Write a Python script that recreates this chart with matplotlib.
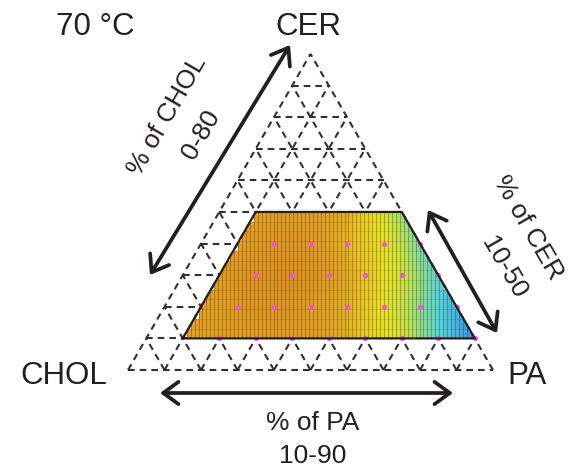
import numpy as np
import matplotlib
matplotlib.use("Agg")
import matplotlib.pyplot as plt
import matplotlib.tri as mtri
from matplotlib.colors import LinearSegmentedColormap
from matplotlib.patches import Polygon
from matplotlib.collections import LineCollection

plt.rcParams["font.family"] = ["Liberation Sans", "DejaVu Sans"]

# ---- data -------------------------------------------------------------
# measured grid: CER level (%) and the PA values (%) sampled at that level
cer_levels = [10, 20, 30, 40, 50]
pa_start = 10
# normalised response at each (CER, PA) point, PA running from 10 upward in steps of 10
z_cer10 = [0.82, 0.84, 0.86, 0.86, 0.82, 0.64, 0.48, 0.27, 0.05]
z_cer20 = [0.84, 0.88, 0.90, 0.87, 0.74, 0.55, 0.36, 0.15]
z_cer30 = [0.86, 0.92, 0.95, 0.87, 0.66, 0.47, 0.27]
z_cer40 = [0.86, 0.90, 0.89, 0.72, 0.55, 0.32]
z_cer50 = [0.84, 0.86, 0.82, 0.62, 0.38]
z_rows = [z_cer10, z_cer20, z_cer30, z_cer40, z_cer50]

# experimental compositions marked on the map
dot_cer = [10] * 8 + [20] * 7 + [30] * 6 + [40] * 5
dot_pa = (list(range(20, 100, 10)) + list(range(20, 90, 10))
          + list(range(20, 80, 10)) + list(range(20, 70, 10)))

temperature = "70 °C"
vertex_labels = ["CHOL", "PA", "CER"]
range_labels = {"CHOL": "0-80", "CER": "10-50", "PA": "10-90"}

# ---- helpers ----------------------------------------------------------
S3 = np.sqrt(3) / 2


def tern(pa, cer):
    """ternary fractions (PA, CER) -> cartesian; CHOL at (0,0), PA at (1,0)."""
    pa = np.asarray(pa, float)
    cer = np.asarray(cer, float)
    return pa + cer / 2, cer * S3


SCALE, X0, Y0 = 365.0, 128.0, 370.0


def P(px, py):
    """figure-pixel position -> axes data position"""
    return (px - X0) / SCALE, (Y0 - py) / SCALE


ink = "#231f20"
grid_c = "#332f2f"

fig = plt.figure(figsize=(5.8, 4.68), dpi=100)
ax = fig.add_axes([0, 0, 1, 1])
ax.set_xlim(-X0 / SCALE, (580 - X0) / SCALE)
ax.set_ylim(-(468 - Y0) / SCALE, Y0 / SCALE)
ax.axis("off")

# ---- dashed ternary grid -----------------------------------------------
segs = []
for k in range(0, 10):
    f = k / 10
    # constant CER
    segs.append([tern(0, f), tern(1 - f, f)])
    # constant PA
    segs.append([tern(f, 0), tern(f, 1 - f)])
    # constant CHOL
    segs.append([tern(1 - f, 0), tern(0, 1 - f)])
segs = [[(float(a[0]), float(a[1])) for a in s] for s in segs]
grid = LineCollection(segs, colors=grid_c, linewidths=1.5,
                      linestyles=[(0, (3.2, 2.4))], zorder=1)
ax.add_collection(grid)

# ---- heat map over the measured region ---------------------------------
pa_pts, cer_pts, z_pts = [], [], []
for cer, row in zip(cer_levels, z_rows):
    for i, z in enumerate(row):
        pa_pts.append((pa_start + 10 * i) / 100)
        cer_pts.append(cer / 100)
        z_pts.append(z)
pa_pts = np.array(pa_pts)
cer_pts = np.array(cer_pts)
xp, yp = tern(pa_pts, cer_pts)
tri = mtri.Triangulation(xp, yp)
interp = mtri.CubicTriInterpolator(tri, np.array(z_pts), kind="geom")

cer_lo, cer_hi = min(cer_levels) / 100, max(cer_levels) / 100
pa_lo = pa_start / 100
x_lo, _ = tern(pa_lo, cer_lo)
x_hi, _ = tern(1 - cer_lo, cer_lo)
nx, ny = 74, 13
xe = np.linspace(float(x_lo), float(x_hi), nx + 1)
ye = np.linspace(cer_lo * S3, cer_hi * S3, ny + 1)
xc = (xe[:-1] + xe[1:]) / 2
yc = (ye[:-1] + ye[1:]) / 2
XC, YC = np.meshgrid(xc, yc)
cer_c = np.clip(YC / S3, cer_lo, cer_hi)
pa_c = np.clip(XC - cer_c / 2, pa_lo, 1 - cer_c)
qx, qy = tern(pa_c, cer_c)
Z = np.clip(interp(qx, qy).filled(np.nan), 0, 1)

cmap = LinearSegmentedColormap.from_list("resp", [
    (0.00, "#2f7fd6"), (0.12, "#3aa8e6"), (0.25, "#4fd4dc"),
    (0.35, "#84dc96"), (0.45, "#c4e048"), (0.55, "#e6e026"),
    (0.65, "#e8c826"), (0.75, "#e4ae24"), (0.86, "#e09e22"),
    (1.00, "#db891e")])

trap = [tern(pa_lo, cer_lo), tern(1 - cer_lo, cer_lo),
        tern(1 - cer_hi, cer_hi), tern(pa_lo, cer_hi)]
trap = [(float(a), float(b)) for a, b in trap]
clip = Polygon(trap, closed=True, transform=ax.transData)

mesh = ax.pcolormesh(xe, ye, Z, cmap=cmap, vmin=0, vmax=1,
                     shading="flat", zorder=2)
mesh.set_clip_path(clip)

vl = LineCollection([[(x, ye[0]), (x, ye[-1])] for x in xe],
                    colors=(0.25, 0.15, 0.05, 0.4), linewidths=0.6, zorder=3)
vl.set_clip_path(clip)
ax.add_collection(vl)
hl = LineCollection([[(xe[0], y), (xe[-1], y)] for y in ye],
                    colors=(0.25, 0.15, 0.05, 0.15), linewidths=0.6, zorder=3)
hl.set_clip_path(clip)
ax.add_collection(hl)

dx, dy = tern(np.array(dot_pa) / 100, np.array(dot_cer) / 100)
ax.plot(dx, dy, ls="none", marker="o", ms=3.8, mfc="#e65ad8", mec="none",
        zorder=4)

ax.add_patch(Polygon(trap, closed=True, fill=False, ec=ink, lw=1.6, zorder=5))

# ---- labels -------------------------------------------------------------
big, small = 22.5, 19
ax.text(*P(95, 35), temperature, fontsize=big, color=ink, ha="center",
        va="baseline")
ax.text(*P(308, 35), vertex_labels[2], fontsize=big, color=ink,
        ha="center", va="baseline")
ax.text(*P(64, 384), vertex_labels[0], fontsize=big, color=ink,
        ha="center", va="baseline")
ax.text(*P(527, 384), vertex_labels[1], fontsize=big, color=ink,
        ha="center", va="baseline")

ax.text(*P(313, 430), "% of PA", fontsize=small, color=ink, ha="center",
        va="baseline")
ax.text(*P(313, 463), range_labels["PA"], fontsize=small, color=ink,
        ha="center", va="baseline")

ax.text(*P(167, 116), "% of CHOL", fontsize=small, color=ink, rotation=60,
        rotation_mode="anchor", ha="center", va="center")
ax.text(*P(201, 135), range_labels["CHOL"], fontsize=small, color=ink,
        rotation=60, rotation_mode="anchor", ha="center", va="center")

ax.text(*P(528, 228), "% of CER", fontsize=small, color=ink, rotation=-60,
        rotation_mode="anchor", ha="center", va="center")
ax.text(*P(504, 268), range_labels["CER"], fontsize=small, color=ink,
        rotation=-60, rotation_mode="anchor", ha="center", va="center")

# ---- double-headed arrows ------------------------------------------------
arrow = dict(arrowstyle="<->,head_length=0.55,head_width=0.4", color=ink,
             lw=2.7, shrinkA=0, shrinkB=0, mutation_scale=20)
ax.annotate("", xy=P(150, 275), xytext=P(290, 45), arrowprops=arrow)
ax.annotate("", xy=P(428, 210), xytext=P(497, 333), arrowprops=arrow)
ax.annotate("", xy=P(160, 393), xytext=P(453, 393), arrowprops=arrow)

fig.savefig("out.png", dpi=100, facecolor="white")
